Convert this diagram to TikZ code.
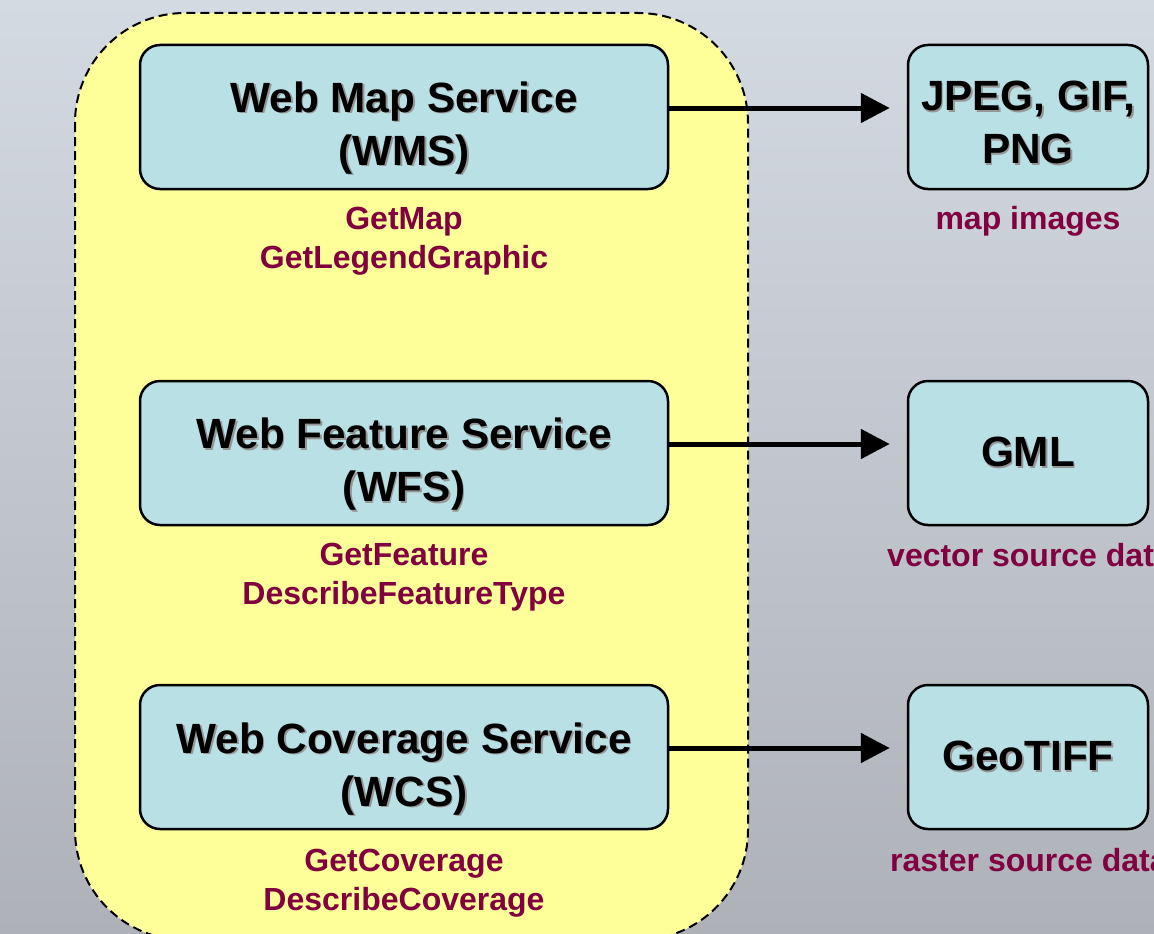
\documentclass[tikz,border=0pt]{standalone}
\usepackage{fontspec}
\setmainfont{Liberation Sans}
\usetikzlibrary{arrows.meta}
\definecolor{bgtop}{RGB}{212,218,226}
\definecolor{bgbot}{RGB}{174,177,184}
\definecolor{yell}{RGB}{255,255,153}
\definecolor{boxblue}{RGB}{185,224,228}
\definecolor{maroon}{RGB}{128,0,64}
\definecolor{shadowgray}{RGB}{150,150,150}
\newcommand\sh[1]{\makebox[0pt][l]{\kern1.8pt\raisebox{-1.8pt}{\textcolor{shadowgray}{#1}}}#1}
\newcommand\dn[2]{\raisebox{-#1}[\height][\depth]{\begin{tabular}{@{}c@{}}#2\end{tabular}}}
\tikzset{
  svc/.style={draw=black, line width=2.5pt, fill=boxblue, rounded corners=20pt,
    minimum width=528pt, minimum height=144pt, align=center, inner sep=0pt,
    font=\fontsize{42.3}{53}\selectfont\bfseries},
  fmt/.style={svc, minimum width=240pt},
  lbl/.style={text=maroon, align=center, inner sep=0pt,
    font=\fontsize{32}{39}\selectfont\bfseries},
  arr/.style={line width=5pt, -{Triangle[length=29pt,width=29pt]}, shorten >=17pt}
}
\begin{document}
\begin{tikzpicture}[x=1pt,y=-1pt]
\useasboundingbox (0,0) rectangle (1154,934);
\clip (0,0) rectangle (1154,934);
\shade[top color=bgtop, bottom color=bgbot] (0,0) rectangle (1154,934);
\draw[fill=yell, line width=2pt, dash pattern=on 9pt off 5pt, rounded corners=110pt]
  (75,13) rectangle (748,940);

\node[svc] (wms) at (404,117) {\dn{11pt}{\sh{Web Map Service}\\\sh{(WMS)}}};
\node[svc] (wfs) at (404,453) {\dn{11.5pt}{\sh{Web Feature Service}\\\sh{(WFS)}}};
\node[svc] (wcs) at (404,757) {\dn{12pt}{\sh{Web Coverage Service}\\\sh{(WCS)}}};

\node[fmt] (img) at (1028,117) {\dn{9.5pt}{\sh{JPEG, GIF,}\\\sh{PNG}}};
\node[fmt] (gml) at (1028,453) {\sh{GML}};
\node[fmt] (tif) at (1028,757) {\sh{GeoTIFF}};

\node[lbl] (l1) at (404,241.5) {GetMap\\GetLegendGraphic};
\node[lbl] (l2) at (404,577.5) {GetFeature\\DescribeFeatureType};
\node[lbl] (l3) at (404,883) {GetCoverage\\DescribeCoverage};

\node[lbl] (r1) at (1028,221) {map images};
\node[lbl, anchor=west] (r2) at (887,555) {vector source data};
\node[lbl, anchor=west] (r3) at (890,860) {raster source data};

\draw[arr] ([yshift=9pt]wms.east) -- ([yshift=9pt]img.west);
\draw[arr] ([yshift=9pt]wfs.east) -- ([yshift=9pt]gml.west);
\draw[arr] ([yshift=9pt]wcs.east) -- ([yshift=9pt]tif.west);
\end{tikzpicture}
\end{document}
